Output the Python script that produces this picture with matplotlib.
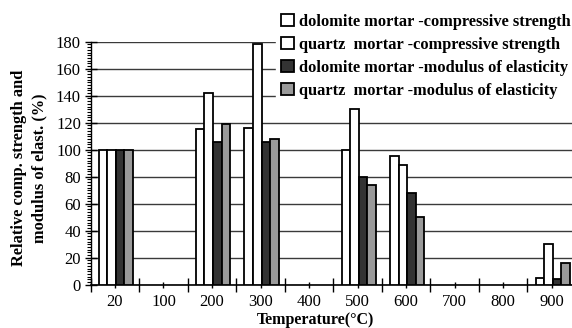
import matplotlib
matplotlib.use('Agg')
import matplotlib.pyplot as plt
import numpy as np
from matplotlib.ticker import MultipleLocator, FixedLocator

plt.rcParams['font.family'] = ['Liberation Serif', 'DejaVu Serif']

temps = ['20', '100', '200', '300', '400', '500', '600', '700', '800', '900']
series_names = ['dolomite mortar -compressive strength',
                'quartz  mortar -compressive strength',
                'dolomite mortar -modulus of elasticity',
                'quartz  mortar -modulus of elasticity']
dol_comp = [100, 0, 115, 116, 0, 100, 95, 0, 0, 5]
qtz_comp = [100, 0, 142, 178, 0, 130, 89, 0, 0, 30]
dol_mod = [100, 0, 106, 106, 0, 80, 68, 0, 0, 4]
qtz_mod = [100, 0, 119, 108, 0, 74, 50, 0, 0, 16]
colors = ['white', 'white', '#333333', '#9a9a9a']

fig = plt.figure(figsize=(5.72, 3.28), dpi=100)
ax = fig.add_axes([90.7/572, 43.3/328, (576-90.7)/572, 243/328])

x = np.arange(len(temps))
w = 0.176
data = [dol_comp, qtz_comp, dol_mod, qtz_mod]
handles = []
for k, vals in enumerate(data):
    v = np.array(vals, dtype=float)
    mask = v > 0
    b = ax.bar(x[mask] + (k - 1.5) * w + 0.02, v[mask], width=w, color=colors[k],
               edgecolor='black', linewidth=1.3, zorder=3, label=series_names[k])
    handles.append(b)

ax.set_xlim(-0.5, 9.5)
ax.set_ylim(0, 180)
ax.yaxis.set_major_locator(MultipleLocator(20))
ax.yaxis.set_minor_locator(MultipleLocator(2))
ax.grid(axis='y', color='#3a3a3a', linewidth=1.0, zorder=0)

ax.xaxis.set_major_locator(FixedLocator(np.arange(-0.5, 10, 1)))
ax.set_xticklabels([])
ax.set_xticks(x, minor=True)
ax.set_xticklabels(temps, minor=True)
ax.tick_params(axis='x', which='major', direction='inout', length=10, width=1.0, labelbottom=False)
ax.tick_params(axis='x', which='minor', direction='inout', length=5, width=1.0, pad=4, labelsize=12)
ax.tick_params(axis='y', which='major', direction='inout', length=8, width=1.0, labelsize=12, pad=3)
ax.tick_params(axis='y', which='minor', direction='out', length=3, width=0.8)

for s in ['top', 'right']:
    ax.spines[s].set_visible(False)
ax.spines['left'].set_linewidth(1.0)
ax.spines['bottom'].set_linewidth(1.2)

fig.text(29/572, 1 - 168/328, 'Relative comp. strength and\nmodulus of elast. (%)',
         rotation=90, ha='center', va='center', multialignment='center',
         fontsize=11.8, fontweight='bold', linespacing=1.35)
fig.text(316/572, 1 - 320/328, 'Temperature(°C)', ha='center', va='center',
         fontsize=11.5, fontweight='bold')

leg = fig.legend(handles=handles, loc='upper left', bbox_to_anchor=(276/572, 1 - 9/328),
                 frameon=True, fancybox=False, edgecolor='white', facecolor='white',
                 framealpha=1.0, handlelength=0.8, handleheight=0.8, handletextpad=0.3,
                 labelspacing=0.42, borderpad=0.3, borderaxespad=0,
                 prop={'weight': 'bold', 'size': 11.8})

fig.savefig('out.png', dpi=100)
